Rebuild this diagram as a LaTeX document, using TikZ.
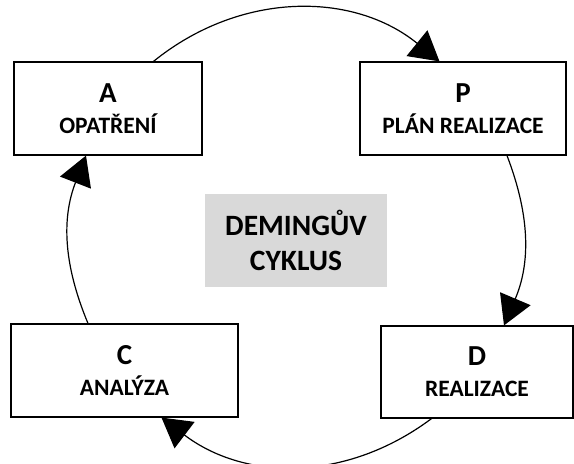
\documentclass[tikz,border=0pt]{standalone}
\usepackage{fontspec}
\setmainfont{Carlito}
\usetikzlibrary{shapes,arrows,arrows.meta}

\begin{document}
\begin{tikzpicture}[x=1pt,y=1pt]
	\tikzstyle{every node}=[font=\bfseries\fontsize{23.5}{31}\selectfont]
	\tikzstyle{stagebox}=[draw=black, line width=1.2pt, fill=white, align=center, inner sep=0pt]
	\tikzstyle{cycarrow}=[draw=black, line width=1.2pt, -{Triangle[length=29pt,width=33pt]}]
	
	\definecolor{a00d9d9}{RGB}{217,217,217}
	%%Deming cycle
	
	\useasboundingbox (0.0000,0.0000) rectangle (574.0000,464.0000);
	
	\node [stagebox, minimum width=188, minimum height=93]  (A)  at (108.0000,355.5000)  {{\fontsize{29}{31}\selectfont A}\\OPATŘENÍ};
	\node [stagebox, minimum width=206, minimum height=93]  (P)  at (463.0000,355.5000)  {{\fontsize{29}{31}\selectfont P}\\PLÁN REALIZACE};
	\node [stagebox, minimum width=192, minimum height=92]  (D)  at (477.0000,92.0000)  {{\fontsize{29}{31}\selectfont D}\\REALIZACE};
	\node [stagebox, minimum width=227, minimum height=93]  (C)  at (124.5000,93.5000)  {{\fontsize{29}{31}\selectfont C}\\ANALÝZA};
	\node [fill= a00d9d9, minimum width=182, minimum height=93, align=center, font=\bfseries\fontsize{29.5}{35}\selectfont]  (title)  at (296.0000,223.5000)  {DEMINGŮV\\CYKLUS};
	
	\draw [cycarrow]  ([xshift=45.5pt]A.north) to[bend left=39] ([xshift=-23.5pt]P.north);
	\draw [cycarrow]  ([xshift=44.0pt]P.south) to[bend left=22] ([xshift=27.0pt]D.north);
	\draw [cycarrow]  ([xshift=-45.5pt]D.south) to[bend left=37] ([xshift=37.0pt]C.south);
	\draw [cycarrow]  ([xshift=-36.5pt]C.north) to[bend left=22] ([xshift=-22.0pt]A.south);

\end{tikzpicture}
\end{document}
